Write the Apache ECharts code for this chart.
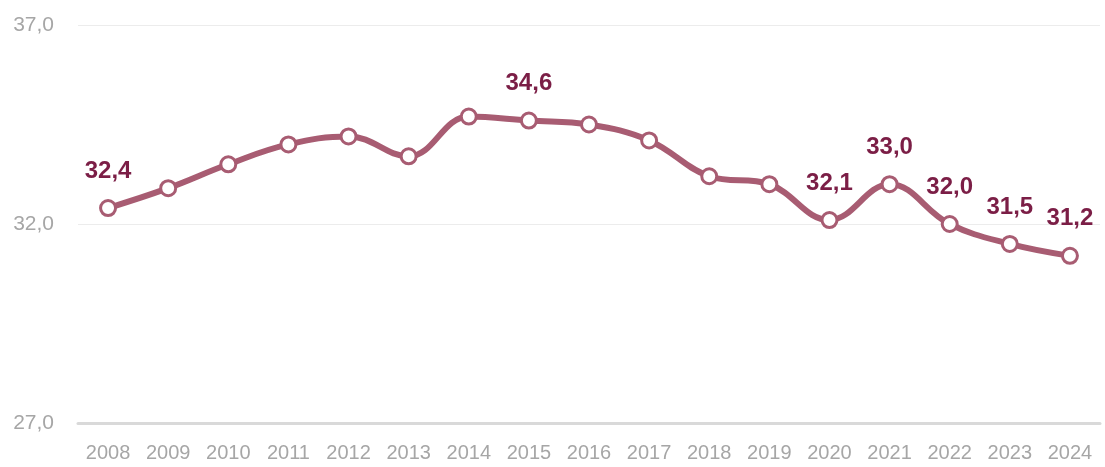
<!DOCTYPE html>
<html>
<head>
<meta charset="utf-8">
<script src="https://cdn.jsdelivr.net/npm/echarts@6/dist/echarts.min.js"></script>
<style>
html, body { margin: 0; padding: 0; background: #fff; }
#chart { width: 1105px; height: 467px; }
</style>
</head>
<body>
<div id="chart"></div>
<script>
const years = ['2008', '2009', '2010', '2011', '2012', '2013', '2014', '2015', '2016',
    '2017', '2018', '2019', '2020', '2021', '2022', '2023', '2024'];
const values = [32.4, 32.9, 33.5, 34.0, 34.2, 33.7, 34.7, 34.6, 34.5,
    34.1, 33.2, 33.0, 32.1, 33.0, 32.0, 31.5, 31.2];
// years that get a value label
const labelled = ['2008', '2015', '2020', '2021', '2022', '2023', '2024'];

const fmt = v => v.toFixed(1).replace('.', ',');
const font = '"Liberation Sans", Arial, sans-serif';

let chart = echarts.init(document.getElementById('chart'));
let option = {
    backgroundColor: '#fff',
    animation: false,
    grid: { left: 78, right: 5, top: 25, bottom: 44, containLabel: false },
    xAxis: {
        type: 'category',
        data: years,
        axisTick: { show: false },
        axisLine: { lineStyle: { color: '#d9d9d9', width: 3 } },
        axisLabel: {
            color: '#a6a6a6',
            fontSize: 20,
            fontFamily: font,
            margin: 20
        }
    },
    yAxis: {
        type: 'value',
        min: 27,
        max: 37,
        interval: 5,
        axisLine: { show: false },
        axisTick: { show: false },
        splitLine: { lineStyle: { color: '#ececec', width: 1 } },
        axisLabel: {
            color: '#a6a6a6',
            fontSize: 21,
            fontFamily: font,
            margin: 24,
            formatter: v => fmt(v)
        }
    },
    series: [{
        type: 'line',
        data: values,
        smooth: 0.4,
        symbol: 'circle',
        symbolSize: 15,
        lineStyle: { color: '#a85c72', width: 6 },
        itemStyle: { color: '#fff', borderColor: '#a85c72', borderWidth: 3 },
        label: {
            show: true,
            position: 'top',
            distance: 16,
            color: '#7b1e46',
            fontSize: 24,
            fontWeight: 'bold',
            fontFamily: font,
            formatter: p => labelled.indexOf(years[p.dataIndex]) >= 0 ? fmt(p.value) : ''
        },
        z: 3
    }]
};
chart.setOption(option);
</script>
</body>
</html>
